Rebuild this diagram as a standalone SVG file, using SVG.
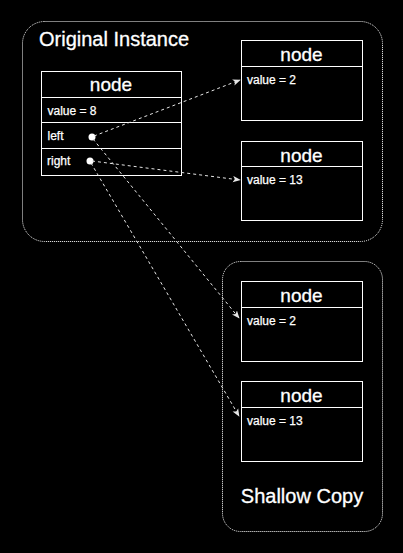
<svg xmlns="http://www.w3.org/2000/svg" width="403" height="553" viewBox="0 0 403 553">
<defs>
<style>
.bg{fill:#000}
.cont{fill:none;stroke:#fff;stroke-width:1;stroke-dasharray:1 1}
.box{fill:#000;stroke:#fff;stroke-width:1}
.hd{font-family:"Liberation Sans",Arial,sans-serif;font-size:19px;fill:#fff;text-anchor:middle;stroke:#fff;stroke-width:0.3}
.tx{font-family:"Liberation Sans",Arial,sans-serif;font-size:12px;fill:#fff;stroke:#fff;stroke-width:0.25}
.title{font-family:"Liberation Sans",Arial,sans-serif;font-size:20px;fill:#fff;stroke:#fff;stroke-width:0.3}
.edge{fill:none;stroke:#e6e6e6;stroke-width:1;stroke-dasharray:3 3}
</style>
<marker id="arr" viewBox="0 0 10 8" refX="9" refY="4" markerWidth="8" markerHeight="7" orient="auto" markerUnits="userSpaceOnUse">
<path d="M0,0 L10,4 L0,8 L2.5,4 Z" fill="#e6e6e6"/>
</marker>
</defs>
<rect class="bg" x="0" y="0" width="403" height="553"/>

<g id="original-instance">
<rect class="cont" x="22.5" y="21.5" width="360" height="220" rx="22" ry="22"/>
<text class="title" x="39" y="46">Original Instance</text>
</g>

<g id="shallow-copy">
<rect class="cont" x="222.5" y="261.5" width="160" height="270" rx="18" ry="18"/>
<text class="title" x="302" y="503" text-anchor="middle">Shallow Copy</text>
</g>

<g id="node-main">
<rect class="box" x="41.5" y="71.5" width="140" height="104"/>
<line class="box" x1="41.5" y1="97.5" x2="181.5" y2="97.5"/>
<line class="box" x1="41.5" y1="122.5" x2="181.5" y2="122.5"/>
<line class="box" x1="41.5" y1="148.5" x2="181.5" y2="148.5"/>
<text class="hd" x="111" y="91">node</text>
<text class="tx" x="47.5" y="115">value = 8</text>
<text class="tx" x="47.5" y="140">left</text>
<text class="tx" x="47" y="165">right</text>
<circle cx="92" cy="137" r="3.5" fill="#fff"/>
<circle cx="90" cy="161" r="3.5" fill="#fff"/>
</g>

<g id="node-orig-2">
<rect class="box" x="241.5" y="40.5" width="121" height="80"/>
<line class="box" x1="241.5" y1="66.5" x2="362.5" y2="66.5"/>
<text class="hd" x="301.5" y="61">node</text>
<text class="tx" x="247" y="83.5">value = 2</text>
</g>

<g id="node-orig-13">
<rect class="box" x="241.5" y="141.5" width="121" height="79"/>
<line class="box" x1="241.5" y1="166.5" x2="362.5" y2="166.5"/>
<text class="hd" x="301.5" y="161.5">node</text>
<text class="tx" x="247" y="183.5">value = 13</text>
</g>

<g id="node-copy-2">
<rect class="box" x="241.5" y="281.5" width="121" height="80"/>
<line class="box" x1="241.5" y1="307.5" x2="362.5" y2="307.5"/>
<text class="hd" x="301.5" y="302">node</text>
<text class="tx" x="247" y="324.5">value = 2</text>
</g>

<g id="node-copy-13">
<rect class="box" x="241.5" y="381.5" width="121" height="80"/>
<line class="box" x1="241.5" y1="407.5" x2="362.5" y2="407.5"/>
<text class="hd" x="301.5" y="402">node</text>
<text class="tx" x="247" y="424.5">value = 13</text>
</g>

<g id="connectors">
<line class="edge" x1="94" y1="136" x2="240" y2="80" marker-end="url(#arr)"/>
<line class="edge" x1="92" y1="161" x2="240" y2="180" marker-end="url(#arr)"/>
<line class="edge" x1="93" y1="139" x2="239" y2="318" marker-end="url(#arr)"/>
<line class="edge" x1="91" y1="163" x2="239" y2="416" marker-end="url(#arr)"/>
</g>
</svg>
